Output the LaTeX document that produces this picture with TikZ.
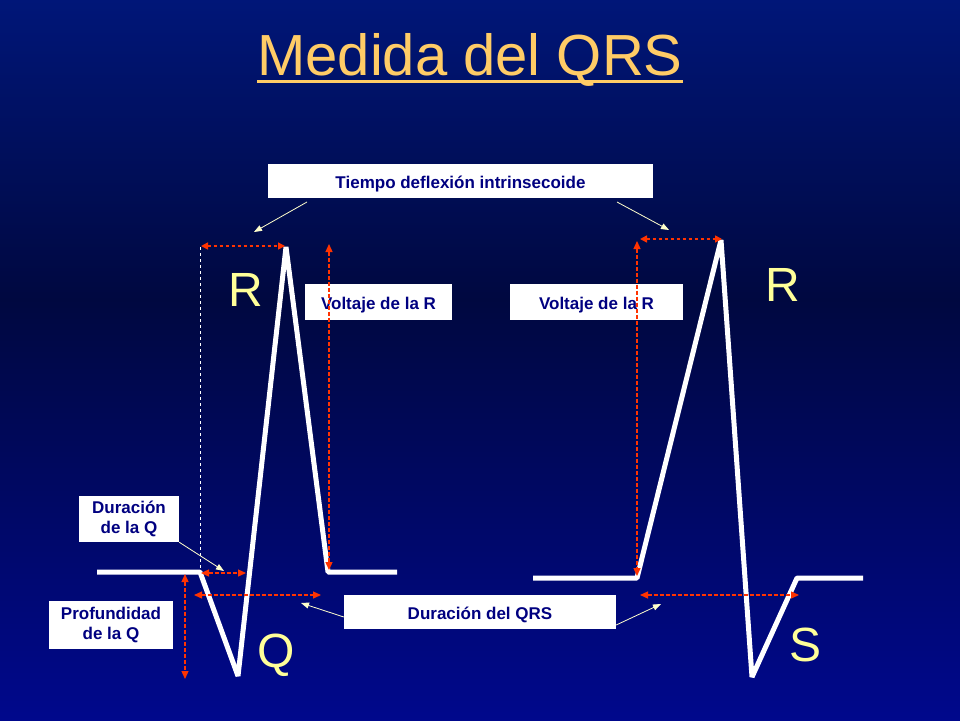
\documentclass[tikz,border=0pt]{standalone}
\usepackage{fontspec}
\setmainfont{Liberation Sans}
\usetikzlibrary{arrows.meta}
\definecolor{ttl}{HTML}{FFCC66}
\definecolor{lett}{HTML}{FFFF99}
\definecolor{navytx}{HTML}{000080}
\definecolor{redd}{HTML}{FF3300}
\definecolor{pointer}{HTML}{FFFFCC}
\tikzset{
 wave/.style={white,line width=5pt,line join=bevel},
 lbl/.style={fill=white,text=navytx,font=\fontsize{17}{20}\selectfont\bfseries,align=center,inner sep=0pt},
 lbl1/.style={lbl,text height=14pt,text depth=0pt},
 meas/.style={redd,dashed,line width=1.6pt,{Triangle[length=7pt,width=7pt]}-{Triangle[length=7pt,width=7pt]}},
 thinmeas/.style={redd,dash pattern=on 4pt off 2pt,line width=1.3pt,{Triangle[length=8pt,width=7pt]}-{Triangle[length=8pt,width=7pt]}},
 ptr/.style={pointer,line width=0.8pt,-{Triangle[length=8pt,width=6pt]}},
 big/.style={lett,font=\fontsize{48}{48}\selectfont}
}
\begin{document}
\begin{tikzpicture}[x=1pt,y=-1pt]
\shade[top color={rgb,255:red,0;green,22;blue,120},bottom color={rgb,255:red,0;green,8;blue,64}] (0,0) rectangle (960,300);
\shade[top color={rgb,255:red,0;green,8;blue,64},bottom color={rgb,255:red,0;green,8;blue,140}] (0,299) rectangle (960,720);
\useasboundingbox (0,0) rectangle (960,720);
\node[ttl,font=\fontsize{58}{60}\selectfont,anchor=base,inner sep=0pt] (title) at (470,75) {Medida del QRS};
\draw[ttl,line width=3pt] (title.base west) ++(0,6) -- ([yshift=-6pt]title.base east);
% waves
\draw[wave] (97,572) -- (200,572) -- (238,676) -- (286,247) -- (328,572) -- (397,572);
\draw[wave] (533,578) -- (637,578) -- (721,240) -- (752,677) -- (797,578) -- (863,578);
% letters
\node[big] (R1) at (246,290) {R};
\node[big] (R2) at (783,285) {R};
\node[big] (Q) at (276,655) {Q};
\node[big] (S) at (805,645) {S};
% boxes
\node[lbl1,minimum width=385pt,minimum height=34pt] (tdi) at (460.5,181) {Tiempo deflexión intrinsecoide};
\node[lbl1,minimum width=147pt,minimum height=36pt] (vl) at (378.5,302) {Voltaje de la R};
\node[lbl1,minimum width=173pt,minimum height=36pt] (vr) at (596.5,302) {Voltaje de la R};
\node[lbl,minimum width=100pt,minimum height=46pt] (dq) at (129,519) {Duración\\de la Q};
\node[lbl,minimum width=124pt,minimum height=48pt] (pq) at (111,625) {Profundidad\\de la Q};
\node[lbl1,minimum width=272pt,minimum height=34pt] (dqrs) at (480,612) {Duración del QRS};
% coordinates
\coordinate (a1) at (201,246); \coordinate (a2) at (285,246);
\coordinate (a3) at (640,239); \coordinate (a4) at (722,239);
\coordinate (w1) at (200,247); \coordinate (w2) at (200,570);
\coordinate (v1) at (329,244); \coordinate (v2) at (329,570);
\coordinate (v3) at (637,241); \coordinate (v4) at (637,576);
\coordinate (q1) at (201,573); \coordinate (q2) at (246,573);
\coordinate (s1) at (194,595); \coordinate (s2) at (321,595);
\coordinate (s3) at (640,595); \coordinate (s4) at (799,595);
\coordinate (p1) at (185,574); \coordinate (p2) at (185,679);
\coordinate (t1) at (254,232); \coordinate (t2) at (669,230);
\coordinate (t3) at (224,571); \coordinate (t4) at (301,603); \coordinate (t5) at (661,604);
% measurements
\draw[white,dashed,line width=0.8pt] (w1) -- (w2);
\draw[meas] (a1) -- (a2);
\draw[meas] (a3) -- (a4);
\draw[thinmeas] (v1) -- (v2);
\draw[thinmeas] (v3) -- (v4);
\draw[thinmeas] (q1) -- (q2);
\draw[thinmeas] (s1) -- (s2);
\draw[thinmeas] (s3) -- (s4);
\draw[thinmeas] (p1) -- (p2);
% pointers
\draw[ptr] (307,202) -- (t1);
\draw[ptr] (617,202) -- (t2);
\draw[ptr] (dq.south east) -- (t3);
\draw[ptr] (dqrs.west) ++(0,5) -- (t4);
\draw[ptr] (dqrs.east) ++(0,13) -- (t5);
\end{tikzpicture}
\end{document}
